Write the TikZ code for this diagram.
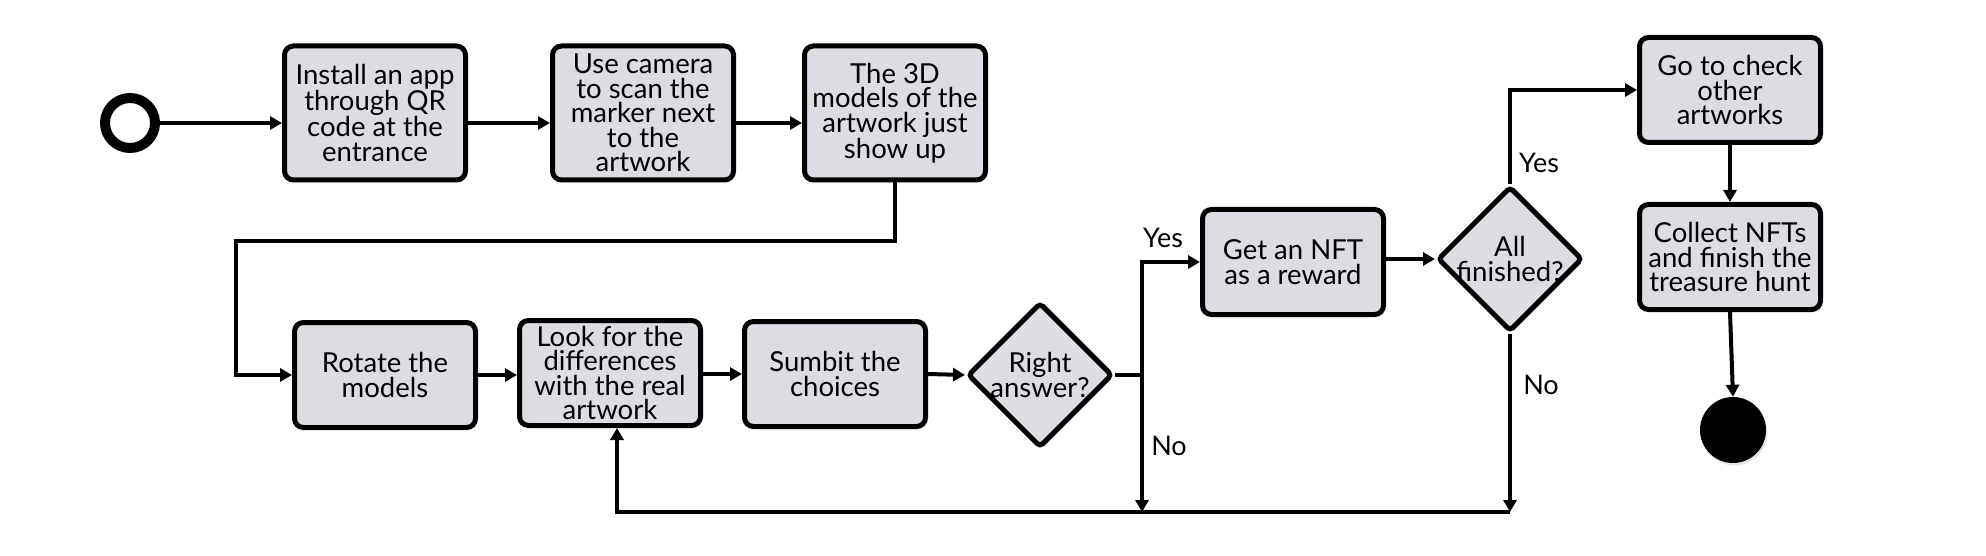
\documentclass[tikz,border=0pt]{standalone}
\usepackage{fontspec}
\setmainfont{Lato}
\usetikzlibrary{shapes.geometric,arrows.meta,shadows}
\definecolor{boxgray}{RGB}{220,221,226}
\begin{document}
\begin{tikzpicture}[x=1pt,y=-1pt,
  txt/.style={font=\fontsize{27.5}{24.5}\selectfont, align=center},
  box/.style={txt, draw, line width=5pt, rounded corners=9pt, fill=boxgray, inner sep=0pt,
    minimum width=181pt, minimum height=105pt,
    drop shadow={opacity=0.18, shadow xshift=1.5pt, shadow yshift=-2.5pt}},
  tallbox/.style={box, minimum height=134pt},
  dia/.style={txt, diamond, draw, line width=5pt, rounded corners=4pt, fill=boxgray,
    inner sep=-6pt, minimum size=145pt,
    drop shadow={opacity=0.18, shadow xshift=1.5pt, shadow yshift=-2.5pt}},
  conn/.style={line width=4pt, -{Triangle[length=12pt,width=13pt]}},
  plain/.style={line width=4pt},
  lbl/.style={font=\fontsize{27}{24}\selectfont}
]
\useasboundingbox (0,0) rectangle (1986,556);
% start and end
\node[circle, draw, line width=10pt, minimum size=50pt, inner sep=0pt, fill=white,
  drop shadow={opacity=0.2, shadow xshift=1.5pt, shadow yshift=-2.5pt}] (start) at (130,123) {};
\node[circle, fill=black, minimum size=66pt, inner sep=0pt,
  drop shadow={opacity=0.2, shadow xshift=1.5pt, shadow yshift=-2.5pt}] (end) at (1733,430) {};
% top row
\node[tallbox] (b1) at (375,113) {Install an app\\through QR\\code at the\\entrance};
\node[tallbox] (b2) at (643,113) {Use camera\\to scan the\\marker next\\to the\\artwork};
\node[tallbox] (b3) at (895,113) {The 3D\\models of the\\artwork just\\show up};
% second row
\node[box] (rot) at (385,375) {Rotate the\\models};
\node[box] (look) at (610,373) {Look for the\\differences\\with the real\\artwork};
\node[box] (sub) at (835,374) {Sumbit the\\choices};
\node[dia] (d1) at (1040,375) {Right\\answer?};
\node[box] (nft) at (1293,262) {Get an NFT\\as a reward};
\node[dia] (d2) at (1510,259) {All\\finished?};
\node[box] (go) at (1730,90) {Go to check\\other\\artworks};
\node[box] (col) at (1730,257) {Collect NFTs\\and finish the\\treasure hunt};
% junction points
\coordinate (t1) at (236,241);
\coordinate (j1) at (1142,375);
\coordinate (j2) at (1142,512);
\coordinate (j3) at (1510,512);
\coordinate (j4) at (617,512);
% connectors
\draw[conn] (start) -- (start -| b1.west);
\draw[conn] (b1.east |- start) -- (b2.west |- start);
\draw[conn] (b2.east |- start) -- (b3.west |- start);
\draw[conn] (b3.south) |- (t1) |- (rot.west);
\draw[conn] (rot.east) -- (look.west |- rot.east);
\draw[conn] (look.east |- sub.west) -- (sub.west);
\draw[conn] (sub.east) -- (d1.west);
\draw[plain] (d1.east) -- (j1);
\draw[conn] (j1) |- (nft.west);
\draw[conn] (j1) -- (j2);
\draw[conn] (nft.east |- d2.west) -- (d2.west);
\draw[conn] (d2.north) |- (go.west);
\draw[conn] (go.south) -- (col.north);
\draw[conn] (col.south) -- (end.north);
\draw[conn] (d2.south) -- (j3);
\draw[conn] (j3) -- (j4) -- (j4 |- look.south);
% labels
\node[lbl] (yes1) at (1163,238) {Yes};
\node[lbl] (no1) at (1169,446) {No};
\node[lbl] (yes2) at (1539,163) {Yes};
\node[lbl] (no2) at (1541,385) {No};
\end{tikzpicture}
\end{document}
